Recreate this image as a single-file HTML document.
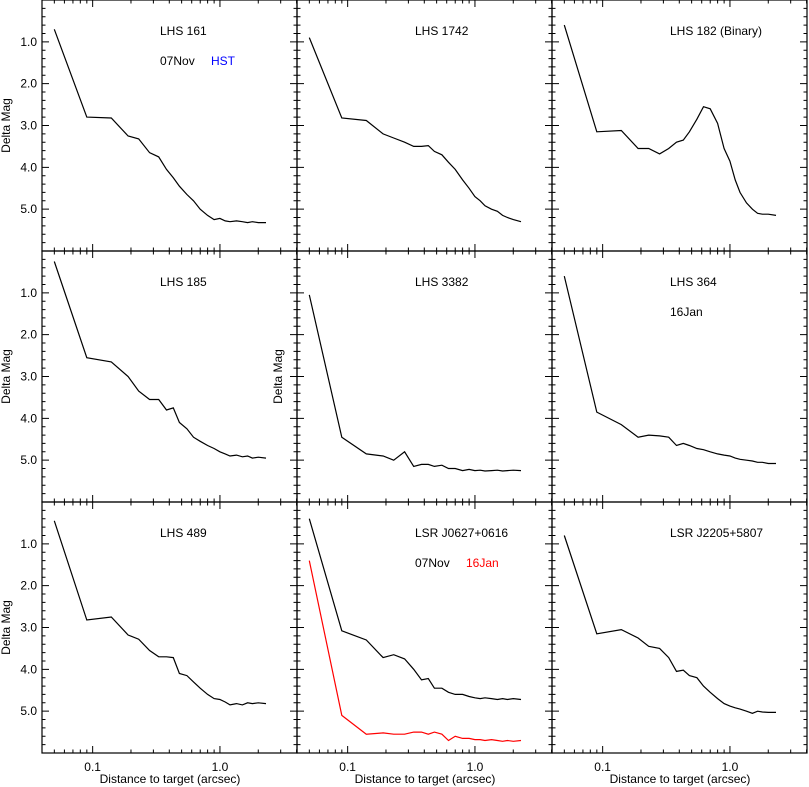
<!DOCTYPE html>
<html><head><meta charset="utf-8"><style>
body{margin:0;background:#fff;}
svg{display:block;font-family:"Liberation Sans",sans-serif;}
</style></head><body>
<svg id="chart" width="809" height="787" xmlns="http://www.w3.org/2000/svg"></svg>
<script>
const xs = [0.05,0.09,0.14,0.19,0.23,0.28,0.33,0.38,0.43,0.48,0.55,0.62,0.7,0.8,0.9,1.0,1.1,1.2,1.35,1.5,1.65,1.8,2.0,2.3];
const titles = ["LHS 161","LHS 1742","LHS 182 (Binary)","LHS 185","LHS 3382","LHS 364","LHS 489","LSR J0627+0616","LSR J2205+5807"];
const s161 = [0.7,2.8,2.82,3.25,3.32,3.65,3.75,4.05,4.25,4.45,4.65,4.8,5.0,5.15,5.25,5.22,5.28,5.3,5.28,5.3,5.32,5.3,5.32,5.32];
const s1742 = [0.9,2.82,2.88,3.2,3.3,3.4,3.5,3.5,3.48,3.62,3.7,3.88,4.05,4.3,4.5,4.7,4.8,4.92,5.0,5.05,5.15,5.2,5.25,5.3];
const s182 = [0.6,3.15,3.12,3.55,3.55,3.68,3.55,3.4,3.35,3.15,2.85,2.55,2.6,2.95,3.55,3.85,4.3,4.6,4.85,5.0,5.1,5.12,5.12,5.15];
const s185 = [0.25,2.55,2.65,3.0,3.35,3.55,3.55,3.8,3.75,4.1,4.25,4.45,4.55,4.65,4.72,4.8,4.85,4.9,4.88,4.92,4.9,4.95,4.93,4.95];
const s3382 = [1.05,4.45,4.85,4.9,5.0,4.8,5.15,5.1,5.1,5.15,5.12,5.2,5.2,5.25,5.22,5.25,5.24,5.26,5.25,5.24,5.26,5.25,5.24,5.25];
const s364 = [0.6,3.85,4.15,4.45,4.4,4.42,4.45,4.65,4.6,4.65,4.72,4.75,4.8,4.85,4.88,4.9,4.95,4.98,5.0,5.02,5.05,5.05,5.08,5.08];
const s489 = [0.45,2.82,2.75,3.18,3.28,3.55,3.7,3.7,3.72,4.1,4.15,4.3,4.45,4.6,4.7,4.72,4.78,4.85,4.82,4.85,4.8,4.82,4.8,4.82];
const s0627nov = [0.4,3.08,3.3,3.72,3.65,3.75,4.0,4.25,4.22,4.45,4.45,4.55,4.6,4.6,4.65,4.68,4.7,4.68,4.7,4.72,4.7,4.72,4.7,4.72];
const s0627jan = [1.4,5.1,5.55,5.52,5.55,5.55,5.5,5.5,5.55,5.5,5.55,5.7,5.6,5.65,5.65,5.68,5.68,5.7,5.68,5.7,5.72,5.7,5.72,5.7];
const s2205 = [0.8,3.15,3.05,3.25,3.45,3.5,3.72,4.05,4.02,4.15,4.2,4.4,4.55,4.7,4.82,4.88,4.92,4.95,5.0,5.05,5.0,5.02,5.03,5.03];
const yTicks = ["1.0","2.0","3.0","4.0","5.0"];
const xTicks = ["0.1","1.0"];

const NS="http://www.w3.org/2000/svg";
const svg=document.getElementById('chart');
const PW=255, PH=251, X0=[42,297,552], Y0=[0,251,502];
const LX0=Math.log10(0.04), LX1=Math.log10(4.03);
function xPix(px,v){return px+(Math.log10(v)-LX0)/(LX1-LX0)*PW;}
function yPix(py,v){return py+v/6*PH;}
function mk(tag,attrs,parent){const e=document.createElementNS(NS,tag);for(const k in attrs)e.setAttribute(k,attrs[k]);(parent||svg).appendChild(e);return e;}

const panels=[
 {series:[[s161,'#000']],notes:[["07Nov","#000",118],["HST","#00f",169]]},
 {series:[[s1742,'#000']],notes:[]},
 {series:[[s182,'#000']],notes:[]},
 {series:[[s185,'#000']],notes:[]},
 {series:[[s3382,'#000']],notes:[]},
 {series:[[s364,'#000']],notes:[["16Jan","#000",118]]},
 {series:[[s489,'#000']],notes:[]},
 {series:[[s0627nov,'#000'],[s0627jan,'#f00']],notes:[["07Nov","#000",118],["16Jan","#f00",169]]},
 {series:[[s2205,'#000']],notes:[]}
];
panels.forEach((p,i)=>{
  const c=i%3,r=Math.floor(i/3),px=X0[c],py=Y0[r];
  const g=mk('g',{});
  
  
  const fr=mk('rect',{x:px,y:py,width:PW,height:PH,fill:'none',stroke:'#000','stroke-width':1.2},g);
  
  
  // y ticks
  let d='';
  for(let k=1;k<30;k++){const v=k*0.2;const y=yPix(py,v);const L=(k%5===0)?7:3.5;
    d+=`M${px},${y}h${L}M${px+PW},${y}h${-L}`;}
  // x ticks
  const minors=[0.05,0.06,0.07,0.08,0.09,0.2,0.3,0.4,0.5,0.6,0.7,0.8,0.9,2,3,4];
  [0.1,1].forEach(v=>{const x=xPix(px,v);d+=`M${x},${py}v7M${x},${py+PH}v-7`;});
  minors.forEach(v=>{const x=xPix(px,v);if(x<px+PW)d+=`M${x},${py}v3.5M${x},${py+PH}v-3.5`;});
  const tk=mk('path',{d:d,stroke:'#000','stroke-width':1,fill:'none'},g);
  
  
  p.series.forEach((s,j)=>{
    const pts=xs.map((x,k)=>xPix(px,x).toFixed(1)+','+yPix(py,s[k]).toFixed(1)).join(' ');
    const pl=mk('polyline',{points:pts,fill:'none',stroke:s[1]||'#000','stroke-width':1.2},g);
    pl.setAttribute('stroke',s===s?p.series[j][1]:'#000');
    pl.setAttribute('points',xs.map((x,k)=>xPix(px,x).toFixed(1)+','+yPix(py,p.series[j][0][k]).toFixed(1)).join(' '));
    
    
  });
  const t=mk('text',{x:px+118,y:py+35,'font-size':12},g);
  t.textContent=titles[i];
  
  
  p.notes.forEach(n=>{
    const tn=mk('text',{x:px+n[2],y:py+65,'font-size':12,fill:n[1]},g);
    tn.textContent=n[0];
    
    
  });
  if(c===0){
    yTicks.forEach(lbl=>{
      const tl=mk('text',{x:px-5,y:yPix(py,parseFloat(lbl))+4,'font-size':12,'text-anchor':'end'},g);
      tl.textContent=lbl;
      
      
    });
  }
  if(c===0||(c===1&&r===1)){
    const cx=(c===0)?10:282, cy=py+PH/2;
    const yt=mk('text',{x:cx,y:cy,'font-size':12,'text-anchor':'middle',transform:`rotate(-90 ${cx} ${cy})`},g);
    yt.textContent='Delta Mag';
    
    
  }
  if(r===2){
    xTicks.forEach(lbl=>{
      const xl=mk('text',{x:xPix(px,parseFloat(lbl)),y:771,'font-size':12,'text-anchor':'middle'},g);
      xl.textContent=lbl;
      
      
    });
    const xt=mk('text',{x:px+128,y:783,'font-size':12,'text-anchor':'middle'},g);
    xt.textContent='Distance to target (arcsec)';
    
    
  }
});
</script>
</body></html>
